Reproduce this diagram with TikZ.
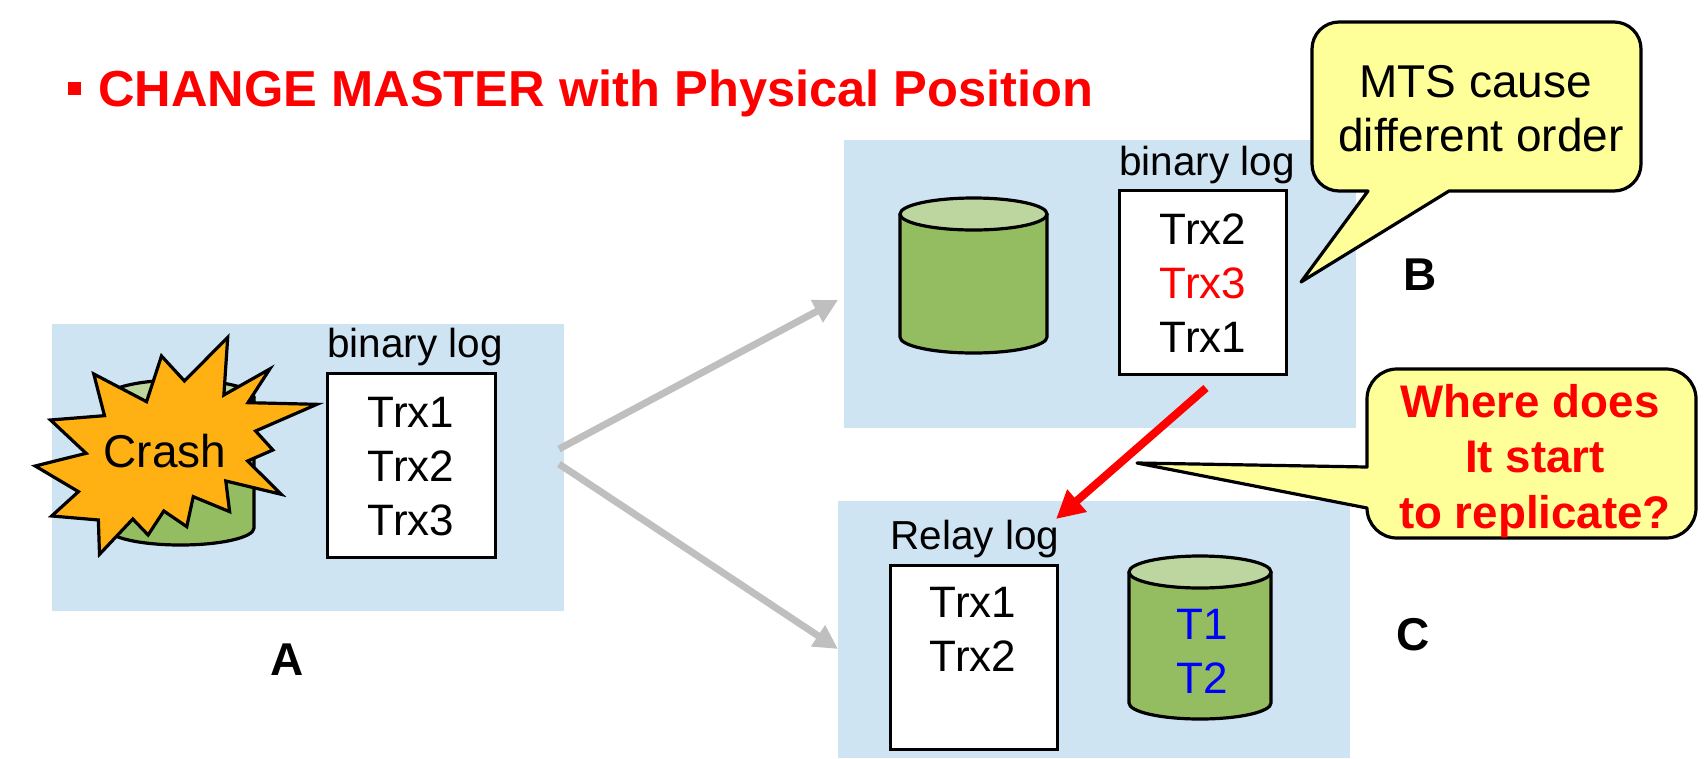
\documentclass[tikz,border=0pt]{standalone}
\usepackage{fontspec}
\setmainfont{Liberation Sans}
\usetikzlibrary{arrows.meta}
\definecolor{panelblue}{HTML}{CEE4F3}
\definecolor{noteyellow}{HTML}{FFFF99}
\definecolor{burst}{HTML}{FFB114}
\definecolor{cylbody}{HTML}{93BD60}
\definecolor{cyltop}{HTML}{BDD6A0}
\definecolor{arrowgray}{HTML}{BFBFBF}
\tikzset{
  panel/.style={fill=panelblue,draw=none,anchor=north west,inner sep=0pt},
  logbox/.style={fill=white,draw=black,line width=3.2pt,anchor=north west,inner sep=0pt},
  txt/.style={font=\fontsize{44}{54}\selectfont,align=center,inner sep=0pt},
  lbl/.style={font=\fontsize{40.5}{46}\selectfont,inner sep=0pt},
  tag/.style={font=\fontsize{46}{54}\selectfont\bfseries,inner sep=0pt},
  note/.style={fill=noteyellow,draw=black,line width=3.2pt,line join=round},
  cyl/.style={fill=cylbody,draw=black,line width=3.2pt},
  cyltopstyle/.style={fill=cyltop,draw=black,line width=3.2pt},
  grayarrow/.style={draw=arrowgray,line width=7pt,-{Triangle[length=24pt,width=24pt]}},
  redarrow/.style={draw=red,line width=8pt,-{Triangle[length=28pt,width=28pt]}},
}
\begin{document}
\begin{tikzpicture}[x=1pt,y=-1pt]
\useasboundingbox (0,0) rectangle (1704,758);
% panels
\node[panel,minimum width=512pt,minimum height=287pt] (pa) at (52,324) {};
\node[panel,minimum width=512pt,minimum height=288pt] (pb) at (844,140) {};
\node[panel,minimum width=512pt,minimum height=257pt] (pc) at (838,501) {};
% title
\node[fill=red,minimum size=13pt,inner sep=0pt] (bullet) at (74,88) {};
\node[font=\fontsize{50.6}{56}\selectfont\bfseries,text=red,anchor=west,inner sep=0pt] (title) at (98,93) {CHANGE MASTER with Physical Position};
% cylinder A
\draw[cyl] (107,397) -- (107,528) arc[start angle=180,end angle=0,x radius=73.5,y radius=17] -- (254,397);
\draw[cyltopstyle] (180.5,397) ellipse[x radius=73.5,y radius=17];
% crash burst
\begin{scope}[x=0.3827pt,y=-0.3333pt,yshift=-300pt]
\draw[fill=burst,draw=black,line width=3.2pt,line join=miter]
 (595,112)--(585,285)--(705,207)--(648,308)--(828,313)--(668,393)--(713,450)--(647,483)--(735,583)--(590,543)--(600,635)--(505,590)--(488,680)--(428,633)--(387,705)--(347,657)--(260,763)--(257,660)--(135,648)--(205,575)--(92,498)--(225,460)--(132,360)--(273,347)--(245,222)--(383,305)--(422,168)--(482,243)--cycle;
\end{scope}
\node[txt,font=\fontsize{46}{54}\selectfont] (crash) at (165,451) {Crash};
% log A
\node[logbox,minimum width=168pt,minimum height=184pt] (loga) at (326,372) {};
\node[lbl,anchor=base] (la) at (415,357) {binary log};
\node[txt] (ta) at (411,467) {Trx1\\Trx2\\Trx3};
\node[tag] (tagA) at (287,660) {A};
% cylinder B
\draw[cyl] (900,214) -- (900,337) arc[start angle=180,end angle=0,x radius=73.5,y radius=16] -- (1047,214);
\draw[cyltopstyle] (973.5,214) ellipse[x radius=73.5,y radius=16];
% log B
\node[logbox,minimum width=167pt,minimum height=184pt] (logb) at (1118,189) {};
\node[lbl,anchor=base] (lb) at (1207,175) {binary log};
\node[txt] (tb) at (1203,283) {Trx2\\\textcolor{red}{Trx3}\\Trx1};
\node[tag] (tagB) at (1420,275) {B};
% log C
\node[logbox,minimum width=167pt,minimum height=184pt] (logc) at (889,564) {};
\node[lbl,anchor=base] (lc) at (975,549) {Relay log};
\node[txt,anchor=north] (tc) at (973,587) {Trx1\\Trx2};
% cylinder C
\draw[cyl] (1129,572) -- (1129,703) arc[start angle=180,end angle=0,x radius=71,y radius=16] -- (1271,572);
\draw[cyltopstyle] (1200,572) ellipse[x radius=71,y radius=16];
\node[txt,text=blue] (tcyl) at (1202,651) {T1\\T2};
\node[tag] (tagC) at (1413,635) {C};
% arrows
\coordinate (gs1) at (559,449);
\coordinate (ge1) at (838,300);
\coordinate (gs2) at (559,464);
\coordinate (ge2) at (838,649);
\draw[grayarrow] (gs1) -- (ge1);
\draw[grayarrow] (gs2) -- (ge2);
\coordinate (rs) at (1206,388);
\coordinate (re) at (1056,519);
\draw[redarrow] (rs) -- (re);
% callouts
\draw[note] (1339,22) -- (1614,22) arc[start angle=270,end angle=360,radius=27] -- (1641,164) arc[start angle=0,end angle=90,radius=27]
 -- (1449,191) -- (1301,282) -- (1368,191) -- (1339,191) arc[start angle=90,end angle=180,radius=27] -- (1312,49) arc[start angle=180,end angle=270,radius=27] -- cycle;
\node[txt,font=\fontsize{46}{54}\selectfont] (n1) at (1481,109) {MTS cause\hspace*{11pt}\\different order};
\draw[note] (1397,369) -- (1666,369) arc[start angle=270,end angle=360,radius=30] -- (1696,508) arc[start angle=0,end angle=90,radius=30]
 -- (1397,538) arc[start angle=90,end angle=180,radius=30] -- (1367,508) -- (1137,463) -- (1367,467) -- (1367,399) arc[start angle=180,end angle=270,radius=30] -- cycle;
\node[txt,font=\fontsize{45.7}{55.5}\selectfont\bfseries,text=red] (n2) at (1535,461) {Where does\hspace*{10pt}\\It start\\to replicate?};
\end{tikzpicture}
\end{document}
